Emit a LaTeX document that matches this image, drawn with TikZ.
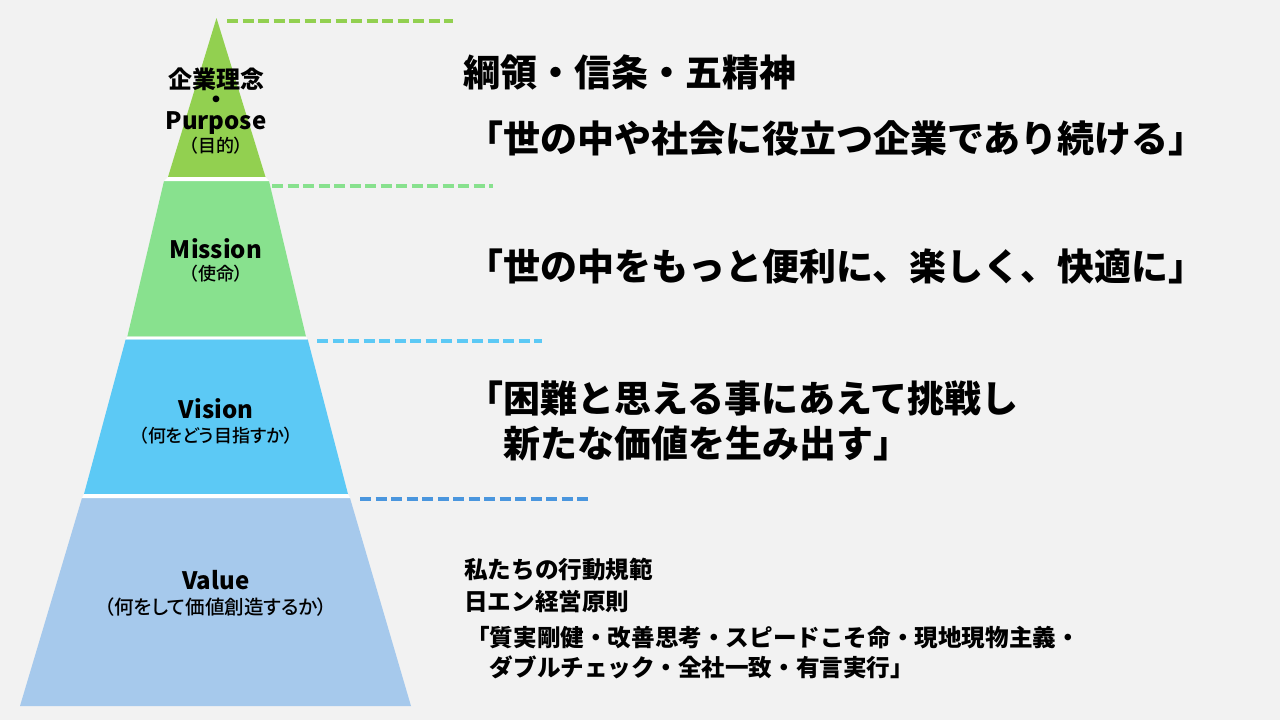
\documentclass[tikz,border=0pt]{standalone}
\usepackage{fontspec}
\setmainfont{Noto Sans CJK JP}
\newfontfamily\jpsub[RawFeature=+palt, UprightFont={* Medium}]{Noto Sans CJK JP}
\usetikzlibrary{positioning}

\definecolor{bgGray}{HTML}{F2F2F2}
\definecolor{purposeGreen}{HTML}{92D050}
\definecolor{missionGreen}{HTML}{88E18E}
\definecolor{visionBlue}{HTML}{5CC9F5}
\definecolor{valueBlue}{HTML}{A6C9EC}
\definecolor{valueLine}{HTML}{4A96DE}

\tikzset{
    guide/.style={line width=3.5pt, dash pattern=on 11pt off 4.5pt},
    lbl/.style={inner sep=0pt, font=\bfseries\fontsize{24}{28}\selectfont},
    sublbl/.style={inner sep=0pt, font=\jpsub\fontsize{18}{22}\selectfont},
    headtxt/.style={inner sep=0pt, anchor=west, align=left, font=\bfseries\fontsize{37}{45}\selectfont},
    bodytxt/.style={inner sep=0pt, anchor=west, align=left, font=\bfseries\fontsize{23.6}{32}\selectfont}
}

\begin{document}
\begin{tikzpicture}[x=1pt, y=-1pt]
    \fill[bgGray] (0,0) rectangle (1280,720);
    \useasboundingbox (0,0) rectangle (1280,720);

    % Pyramid corners
    \coordinate (apex) at (216.5,18);
    \coordinate (a1l) at (168,177);   \coordinate (a1r) at (265.5,177);
    \coordinate (b1l) at (164,181);   \coordinate (b1r) at (269,181);
    \coordinate (a2l) at (127.3,336.7); \coordinate (a2r) at (306,336.7);
    \coordinate (b2l) at (125.7,339.3); \coordinate (b2r) at (307.7,339.3);
    \coordinate (a3l) at (84,494);    \coordinate (a3r) at (348,494);
    \coordinate (b3l) at (82,498);    \coordinate (b3r) at (350,498);
    \coordinate (a4l) at (20,706);    \coordinate (a4r) at (411,706);

    % Layers
    \fill[purposeGreen] (apex) -- (a1r) -- (a1l) -- cycle;
    \fill[missionGreen] (b1l) -- (b1r) -- (a2r) -- (a2l) -- cycle;
    \fill[visionBlue] (b2l) -- (b2r) -- (a3r) -- (a3l) -- cycle;
    \fill[valueBlue] (b3l) -- (b3r) -- (a4r) -- (a4l) -- cycle;
    \fill[white] (a1l) -- (a1r) -- (b1r) -- (b1l) -- cycle;
    \fill[white] (a2l) -- (a2r) -- (b2r) -- (b2l) -- cycle;
    \fill[white] (a3l) -- (a3r) -- (b3r) -- (b3l) -- cycle;

    % Guide lines
    \coordinate (g1s) at (227,21);  \coordinate (g1e) at (453,21);
    \coordinate (g2s) at (272,186); \coordinate (g2e) at (493,186);
    \coordinate (g3s) at (317,341); \coordinate (g3e) at (542,341);
    \coordinate (g4s) at (360,499); \coordinate (g4e) at (588,499);
    \draw[guide, purposeGreen] (g1s) -- (g1e);
    \draw[guide, missionGreen] (g2s) -- (g2e);
    \draw[guide, visionBlue] (g3s) -- (g3e);
    \draw[guide, valueLine] (g4s) -- (g4e);

    % Pyramid labels
    \node[lbl, align=center, font=\bfseries\fontsize{24}{20.5}\selectfont] (purpose) at (216,101) {企業理念\\・\\Purpose};
    \node[sublbl] (purposeJa) at (216,146) {（目的）};
    \node[lbl] (mission) at (216,249) {Mission};
    \node[sublbl] (missionJa) at (216,274) {（使命）};
    \node[lbl] (vision) at (216,409) {Vision};
    \node[sublbl] (visionJa) at (216,436) {（何をどう目指すか）};
    \node[lbl] (value) at (216,580) {Value};
    \node[sublbl, font=\jpsub\fontsize{19.5}{22}\selectfont] (valueJa) at (216,607) {（何をして価値創造するか）};

    % Statements
    \node[headtxt] (creed) at (463,72) {綱領・信条・五精神};
    \node[headtxt] (purposeTxt) at (466,138) {「世の中や社会に役立つ企業であり続ける」};
    \node[headtxt] (missionTxt) at (466,267) {「世の中をもっと便利に、楽しく、快適に」};
    \node[headtxt] (visionTxt) at (466,420.5) {「困難と思える事にあえて挑戦し\\　新たな価値を生み出す」};
    \node[bodytxt] (norms) at (464,585) {私たちの行動規範\\日エン経営原則};
    \node[bodytxt, font=\bfseries\fontsize{23.6}{30}\selectfont] (rules) at (466,653) {「質実剛健・改善思考・スピードこそ命・現地現物主義・\\　ダブルチェック・全社一致・有言実行」};
\end{tikzpicture}
\end{document}
